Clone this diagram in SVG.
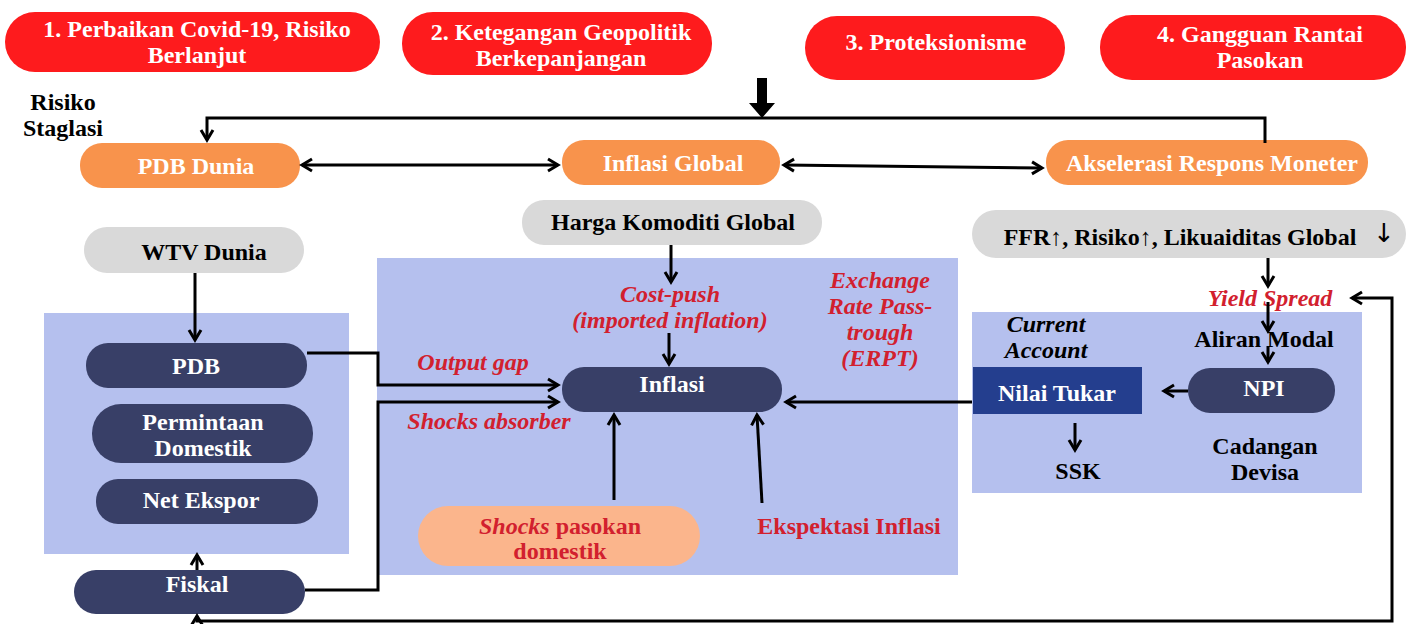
<svg xmlns="http://www.w3.org/2000/svg" width="1408" height="624" viewBox="0 0 1408 624">
<defs>
<marker id="arr" markerUnits="userSpaceOnUse" markerWidth="16" markerHeight="16" refX="11" refY="7" orient="auto-start-reverse" viewBox="0 0 16 14">
<path d="M1,1 L11,7 L1,13" fill="none" stroke="#000" stroke-width="3"/>
</marker>
<style>
text{font-family:"Liberation Serif","DejaVu Serif",serif;font-weight:bold;text-anchor:middle}
.red{fill:#fe1b1d}
.org{fill:#f8934c}
.gry{fill:#d9d9d9}
.nav{fill:#383f67}
.pan{fill:#b5c0ee}
.w{fill:#fff;font-size:24px}
.k{fill:#000;font-size:24px}
.r{fill:#d2202e;font-size:24px}
.i{font-style:italic}
.ln{fill:none;stroke:#000;stroke-width:3}
</style>
</defs>
<rect width="1408" height="624" fill="#fff"/>
<g id="panels">
<rect id="panel-left" class="pan" x="44" y="313" width="305" height="241"/>
<rect id="panel-mid" class="pan" x="377" y="258" width="581" height="317"/>
<rect id="panel-right" class="pan" x="972" y="312" width="390" height="181"/>
</g>
<g id="n1"><rect class="red" x="5" y="12" width="375" height="60" rx="30"/><text class="w" x="197" y="37">1. Perbaikan Covid-19, Risiko</text><text class="w" x="197" y="63">Berlanjut</text></g>
<g id="n2"><rect class="red" x="402" y="12" width="310" height="63" rx="31"/><text class="w" x="561" y="40">2. Ketegangan Geopolitik</text><text class="w" x="561" y="66">Berkepanjangan</text></g>
<g id="n3"><rect class="red" x="805" y="16" width="260" height="64" rx="32"/><text class="w" x="936" y="50">3. Proteksionisme</text></g>
<g id="n4"><rect class="red" x="1100" y="15" width="306" height="65" rx="32"/><text class="w" x="1260" y="42">4. Gangguan Rantai</text><text class="w" x="1260" y="68">Pasokan</text></g>
<g id="risiko"><text class="k" x="63" y="110">Risiko</text><text class="k" x="63" y="136">Staglasi</text></g>
<g id="pdbdunia"><rect class="org" x="80" y="143" width="220" height="45" rx="22"/><text class="w" x="196" y="174">PDB Dunia</text></g>
<g id="inflglobal"><rect class="org" x="562" y="140" width="218" height="45" rx="22"/><text class="w" x="673" y="171">Inflasi Global</text></g>
<g id="akselerasi"><rect class="org" x="1046" y="140" width="322" height="45" rx="22"/><text class="w" x="1212" y="171">Akselerasi Respons Moneter</text></g>
<g id="harga"><rect class="gry" x="522" y="200" width="300" height="45" rx="22"/><text class="k" x="673" y="230">Harga Komoditi Global</text></g>
<g id="ffr"><rect class="gry" x="972" y="210" width="434" height="48" rx="24"/><text class="k" x="1180" y="245">FFR↑,  Risiko↑, Likuaiditas Global</text><text style="font-family:'DejaVu Sans',sans-serif;font-weight:normal;font-size:26px" x="1384" y="242">↓</text></g>
<g id="wtv"><rect class="gry" x="84" y="227" width="220" height="46" rx="23"/><text class="k" x="204" y="260">WTV Dunia</text></g>
<g id="pdb"><rect class="nav" x="86" y="343" width="221" height="45" rx="22"/><text class="w" x="196" y="374">PDB</text></g>
<g id="permintaan"><rect class="nav" x="92" y="404" width="221" height="59" rx="29"/><text class="w" x="203" y="430">Permintaan</text><text class="w" x="203" y="456">Domestik</text></g>
<g id="netekspor"><rect class="nav" x="96" y="479" width="222" height="45" rx="22"/><text class="w" x="201" y="508">Net Ekspor</text></g>
<g id="fiskal"><rect class="nav" x="74" y="570" width="231" height="44" rx="22"/><text class="w" x="197" y="592">Fiskal</text></g>
<g id="inflasi"><rect class="nav" x="562" y="367" width="220" height="45" rx="22"/><text class="w" x="672" y="392">Inflasi</text></g>
<g id="shocks"><rect fill="#fbb58c" x="418" y="506" width="282" height="60" rx="30"/><text class="r" x="560" y="534"><tspan class="i">Shocks</tspan> pasokan</text><text class="r" x="560" y="559">domestik</text></g>
<g id="nilaitukar"><rect fill="#243e8e" x="973" y="367" width="169" height="47"/><text class="w" x="1057" y="401">Nilai Tukar</text></g>
<g id="npi"><rect class="nav" x="1188" y="368" width="147" height="45" rx="22"/><text class="w" x="1264" y="396">NPI</text></g>
<g id="labels">
<text class="r i" x="670" y="302">Cost-push</text>
<text class="r i" x="670" y="328">(imported inflation)</text>
<text class="r i" x="880" y="288">Exchange</text>
<text class="r i" x="880" y="314">Rate Pass-</text>
<text class="r i" x="880" y="340">trough</text>
<text class="r i" x="880" y="366">(ERPT)</text>
<text class="r i" x="473" y="370">Output gap</text>
<text class="r i" x="489" y="429">Shocks absorber</text>
<text class="r" x="849" y="534">Ekspektasi Inflasi</text>
<text class="k i" x="1046" y="332">Current</text>
<text class="k i" x="1046" y="358">Account</text>
<text class="k" x="1078" y="479">SSK</text>
<text class="k" x="1265" y="454">Cadangan</text>
<text class="k" x="1265" y="480">Devisa</text>
<text class="r i" x="1270" y="306">Yield Spread</text>
<text class="k" x="1264" y="347">Aliran Modal</text>
</g>
<g id="connectors">
<path d="M757,78 H767 V103 H775 L762,118 L749,103 H757 Z" fill="#000"/>
<path class="ln" d="M1265,143 V118 H207 V140" marker-end="url(#arr)"/>
<path class="ln" d="M302,165 H558" marker-start="url(#arr)" marker-end="url(#arr)"/>
<path class="ln" d="M784,165 L1042,168" marker-start="url(#arr)" marker-end="url(#arr)"/>
<path class="ln" d="M195,273 V340" marker-end="url(#arr)"/>
<path class="ln" d="M307,353 H378 V385 H558" marker-end="url(#arr)"/>
<path class="ln" d="M305,590 H378 V402 H558" marker-end="url(#arr)"/>
<path class="ln" d="M197,570 V555" marker-end="url(#arr)"/>
<path class="ln" d="M1352,298 H1392 V621 H197 V616" marker-start="url(#arr)" marker-end="url(#arr)"/>
<path class="ln" d="M671,245 V282" marker-end="url(#arr)"/>
<path class="ln" d="M669,333 V364" marker-end="url(#arr)"/>
<path class="ln" d="M614,500 V415" marker-end="url(#arr)"/>
<path class="ln" d="M762,503 L757,415" marker-end="url(#arr)"/>
<path class="ln" d="M972,402 H786" marker-end="url(#arr)"/>
<path class="ln" d="M1188,391 H1164" marker-end="url(#arr)"/>
<path class="ln" d="M1075,423 V450" marker-end="url(#arr)"/>
<path class="ln" d="M1268,258 V286" marker-end="url(#arr)"/>
<path class="ln" d="M1268,302 V331" marker-end="url(#arr)"/>
<path class="ln" d="M1268,346 V362" marker-end="url(#arr)"/>
</g>
</svg>
